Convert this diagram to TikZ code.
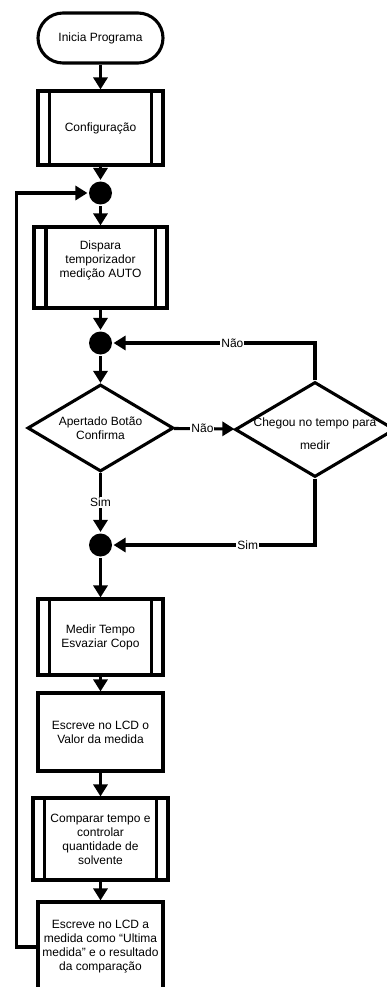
\documentclass[tikz,border=0pt]{standalone}
\usepackage{fontspec}
\setmainfont{Liberation Sans}
\usetikzlibrary{arrows.meta,shapes.geometric}

\begin{document}
\begin{tikzpicture}[x=1pt,y=-1pt,
  line width=3.1pt,
  every node/.style={font=\fontsize{12}{14}\selectfont},
  box/.style={draw, rectangle, minimum width=125pt, align=center, inner sep=2pt},
  term/.style={box, rounded corners=25pt, minimum height=50pt},
  junct/.style={circle, fill=black, minimum size=23pt, inner sep=0pt},
  decision/.style={draw, diamond, inner sep=0pt},
  flow/.style={-{Triangle[width=14pt,length=12pt]}},
  tag/.style={fill=white, inner sep=1pt},
]
\useasboundingbox (0,0) rectangle (387,987);
\clip (0,0) rectangle (387,987);

% main column
\node[term] (start) at (100.5,38) {Inicia Programa};
\node[box, minimum height=74pt] (cfg) at (100.5,128) {Configuração};
\node[junct] (j1) at (100.5,193) {};
\node[box, minimum width=133pt, minimum height=81pt,
      label={[align=center,yshift=7pt]center:Dispara\\temporizador\\medição AUTO}] (disp) at (100.5,267.5) {};
\node[junct] (j2) at (100.5,343) {};
\node[decision, minimum width=146pt, minimum height=87pt,
      label={[align=center]center:Apertado Botão\\Confirma}] (d1) at (100.5,428) {};
\node[decision, minimum width=160pt, minimum height=95pt,
      label={[align=center,yshift=-4pt]center:Chegou no tempo para\\[9pt]medir}] (d2) at (315,429.5) {};
\node[junct] (j3) at (100.5,545) {};
\node[box, minimum height=76pt] (med) at (100.5,637) {Medir Tempo\\Esvaziar Copo};
\node[box, minimum height=78pt] (lcd1) at (100.5,732) {Escreve no LCD o\\Valor da medida};
\node[box, minimum width=135pt, minimum height=82pt] (cmp) at (100.5,839) {Comparar tempo e\\controlar\\quantidade de\\solvente};
\node[box, minimum height=90pt] (lcd2) at (100.5,947) {Escreve no LCD a\\medida como “Ultima\\medida” e o resultado\\da comparação};

% side bars of the subroutine boxes
\foreach \n/\o in {cfg/13, disp/13.5, med/13, cmp/13} {
  \draw ([xshift=\o pt]\n.north west) -- ([xshift=\o pt]\n.south west);
  \draw ([xshift=-\o pt]\n.north east) -- ([xshift=-\o pt]\n.south east);
}

% connectors
\draw[flow] (start) -- (cfg);
\draw[flow] (cfg) -- (j1);
\draw[flow] (j1) -- (disp);
\draw[flow] (disp) -- (j2);
\draw[flow] (j2) -- (d1);
\draw[flow] (d1) -- node[tag,pos=0.47]{Não} (d2);
\draw[flow] (d2.north) |- node[tag,pos=0.705]{Não} (j2.east);
\draw[flow] (d1) -- node[tag]{Sim} (j3);
\draw[flow] (d2.south) |- node[tag,pos=0.667]{Sim} (j3.east);
\draw[flow] (j3) -- (med);
\draw[flow] (med) -- (lcd1);
\draw[flow] (lcd1) -- (cmp);
\draw[flow] (cmp) -- (lcd2);
\draw[flow] (lcd2.west) -- ++(-20,0) |- (j1.west);
\end{tikzpicture}
\end{document}
